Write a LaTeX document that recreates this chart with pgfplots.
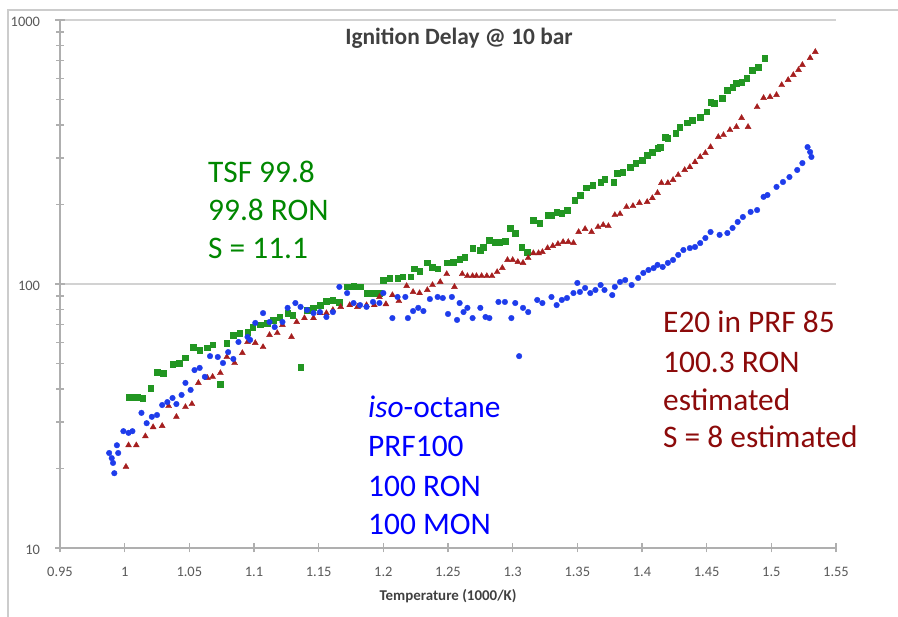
\documentclass[border=0pt]{standalone}
\usepackage{fontspec}
\setmainfont{Carlito}
\usepackage{pgfplots}
\pgfplotsset{compat=1.18}
\definecolor{gmark}{RGB}{34,150,34}
\definecolor{rmark}{RGB}{165,30,30}
\definecolor{bmark}{RGB}{30,60,235}
\definecolor{gtext}{RGB}{0,135,0}
\definecolor{btext}{RGB}{0,0,255}
\definecolor{rtext}{RGB}{140,10,10}
\definecolor{axgray}{RGB}{175,175,175}
\definecolor{lblgray}{RGB}{89,89,89}
\definecolor{titlegray}{RGB}{64,64,64}

\pgfplotstableread{
x y
1.003 37.3
1.006 37.3
1.010 37.3
1.014 37.0
1.020 40.4
1.025 46.4
1.030 46.0
1.037 49.8
1.042 50.2
1.047 52.5
1.053 57.7
1.058 56.2
1.064 57.3
1.068 58.8
1.074 41.8
1.079 59.8
1.084 64.1
1.089 65.2
1.095 65.8
1.099 68.7
1.105 70.0
1.110 71.2
1.115 73.1
1.120 75.0
1.126 77.6
1.130 76.3
1.136 48.5
1.141 79.7
1.146 81.2
1.151 83.2
1.156 86.2
1.161 87.0
1.166 85.5
1.172 97.5
1.177 98.3
1.182 97.5
1.187 92.4
1.192 92.4
1.197 92.4
1.200 103.5
1.205 105.4
1.211 105.4
1.215 106.4
1.221 106.4
1.224 114.1
1.228 112.0
1.234 120.2
1.238 116.0
1.242 114.1
1.249 120.2
1.254 121.2
1.259 124.4
1.263 126.6
1.269 136.8
1.275 134.5
1.277 138.1
1.282 146.8
1.286 144.3
1.290 144.3
1.294 145.5
1.298 163.0
1.302 156.0
1.307 138.1
1.311 132.2
1.316 174.6
1.321 170.2
1.327 182.5
1.330 182.5
1.334 187.5
1.338 185.8
1.342 190.6
1.348 208.0
1.352 217.3
1.357 231.2
1.362 237.1
1.368 243.4
1.371 249.9
1.378 243.4
1.381 263.3
1.385 265.5
1.391 277.3
1.395 287.1
1.400 294.9
1.404 308.1
1.408 316.2
1.412 327.5
1.414 330.0
1.418 360.6
1.420 357.0
1.426 373.3
1.429 393.6
1.435 407.6
1.439 418.2
1.445 429.4
1.450 448.6
1.453 489.1
1.456 484.0
1.462 506.6
1.466 543.3
1.470 557.6
1.473 577.1
1.477 581.0
1.481 602.6
1.485 646.6
1.490 663.7
1.495 718.0
}\tsf

\pgfplotstableread{
x y
1.001 20.3
1.003 24.5
1.009 24.5
1.016 26.5
1.022 28.7
1.029 29.0
1.034 34.5
1.040 31.4
1.047 34.2
1.052 35.1
1.057 42.2
1.064 44.1
1.068 44.5
1.074 46.0
1.079 52.9
1.085 50.2
1.091 54.8
1.095 60.3
1.101 59.8
1.107 57.7
1.112 64.1
1.118 65.2
1.122 70.0
1.129 63.0
1.133 71.8
1.139 74.3
1.146 74.3
1.151 77.6
1.156 77.6
1.161 79.7
1.167 81.9
1.174 83.2
1.180 81.9
1.187 83.2
1.193 83.2
1.197 89.3
1.202 83.9
1.207 90.8
1.212 86.2
1.218 98.3
1.223 93.3
1.228 92.4
1.234 94.9
1.238 99.1
1.244 101.8
1.249 109.1
1.255 97.5
1.261 109.1
1.265 107.2
1.269 107.2
1.272 107.2
1.276 107.2
1.280 107.2
1.284 107.2
1.288 111.0
1.292 115.0
1.296 123.3
1.300 123.3
1.304 121.2
1.308 120.2
1.312 125.4
1.316 130.9
1.320 130.9
1.323 132.2
1.327 136.8
1.331 139.3
1.335 141.8
1.339 144.3
1.343 144.3
1.347 143.0
1.351 157.4
1.356 161.6
1.361 157.4
1.366 164.4
1.370 167.3
1.374 165.8
1.379 182.5
1.383 184.1
1.388 195.7
1.393 197.4
1.398 202.8
1.404 204.6
1.408 211.6
1.412 221.3
1.415 241.4
1.420 241.4
1.424 247.8
1.428 258.7
1.433 270.3
1.437 277.3
1.441 289.6
1.445 302.8
1.449 313.5
1.453 330.1
1.459 360.6
1.463 366.7
1.468 383.0
1.473 393.6
1.477 425.6
1.482 393.6
1.489 468.0
1.494 506.6
1.499 511.0
1.504 520.0
1.508 567.0
1.513 593.0
1.517 619.0
1.521 647.0
1.524 676.0
1.530 718.0
1.534 757.0
}\efuel

\pgfplotstableread{
x y
0.988 22.9
0.990 21.9
0.991 21.0
0.992 19.2
0.994 24.5
0.995 22.9
0.999 27.7
1.003 27.3
1.006 27.7
1.013 32.5
1.017 29.7
1.021 31.4
1.025 31.9
1.029 34.8
1.033 35.7
1.037 37.0
1.040 35.1
1.044 38.0
1.047 42.2
1.051 39.7
1.054 47.2
1.058 48.1
1.062 44.5
1.066 53.3
1.072 52.9
1.076 50.2
1.080 55.2
1.084 52.0
1.088 60.3
1.095 63.0
1.097 61.4
1.101 71.2
1.107 77.6
1.112 71.8
1.116 68.7
1.122 71.8
1.126 81.2
1.132 84.7
1.136 81.9
1.141 79.7
1.146 77.6
1.151 78.3
1.156 75.0
1.161 78.3
1.166 97.5
1.172 92.4
1.177 84.7
1.182 83.2
1.187 81.9
1.192 85.5
1.197 84.7
1.200 92.4
1.207 74.3
1.211 89.3
1.217 89.3
1.219 74.3
1.223 79.0
1.227 81.2
1.231 79.0
1.236 87.7
1.242 89.3
1.246 88.5
1.250 77.0
1.253 89.3
1.257 73.1
1.259 84.7
1.262 78.3
1.265 81.2
1.269 74.3
1.275 81.2
1.279 75.0
1.282 74.3
1.289 85.5
1.294 85.5
1.299 74.3
1.302 84.7
1.305 53.3
1.308 81.2
1.312 78.3
1.319 87.0
1.323 84.7
1.330 89.3
1.334 83.2
1.338 87.0
1.342 88.5
1.347 92.4
1.350 100.9
1.352 93.3
1.356 96.6
1.360 92.4
1.364 94.9
1.368 99.1
1.371 94.9
1.377 90.8
1.379 97.5
1.383 101.8
1.387 103.5
1.392 99.1
1.397 105.4
1.401 110.1
1.405 113.0
1.409 114.9
1.412 118.1
1.416 116.0
1.420 120.2
1.424 123.3
1.428 128.9
1.432 134.5
1.437 136.8
1.441 138.1
1.445 142.9
1.449 149.3
1.453 157.4
1.460 153.5
1.466 156.0
1.470 163.0
1.474 171.8
1.478 179.4
1.484 187.5
1.489 190.6
1.494 213.8
1.497 217.3
1.504 233.2
1.509 243.4
1.514 254.2
1.520 270.3
1.524 287.1
1.528 330.1
1.530 316.2
1.531 302.8
}\isooct

\begin{document}
\begin{tikzpicture}[x=1bp,y=1bp]
\path[use as bounding box] (0,0) rectangle (898,617);
\draw[gray!40, line width=1.2bp] (8,0) -- (8,607) -- (898,607);
\begin{axis}[
  at={(60bp,69bp)}, anchor=south west,
  scale only axis, width=776bp, height=528bp,
  xmin=0.95, xmax=1.55, ymode=log, ymin=10, ymax=1000,
  axis x line*=bottom, axis y line*=left,
  axis line style={axgray, line width=1.2bp},
  xtick={0.95,1,1.05,1.1,1.15,1.2,1.25,1.3,1.35,1.4,1.45,1.5,1.55},
  xticklabels={0.95,1,1.05,1.1,1.15,1.2,1.25,1.3,1.35,1.4,1.45,1.5,1.55},
  ytick={10,100,1000}, yticklabels={10,100,1000},
  tick align=center, major tick length=9bp, minor tick length=7bp,
  every tick/.style={axgray, line width=1.2bp},
  ymajorgrids, major grid style={gray!35, line width=1.2bp},
  /pgf/number format/assume math mode=true,
  tick label style={font=\fontsize{14.5}{17}\selectfont, text=lblgray},
  xticklabel style={yshift=-11bp},
  yticklabel style={xshift=-12bp, yshift=-2bp},
  xlabel={Temperature (1000/K)},
  xlabel style={font=\bfseries\fontsize{15}{18}\selectfont, text=titlegray,
    at={(axis description cs:0.5,-0.091)}, anchor=center},
  clip=false,
]
\addplot[only marks, mark=square*, mark size=2.8bp, color=gmark] table {\tsf};
\addplot[only marks, mark=triangle*, mark size=3.4bp, color=rmark] table {\efuel};
\addplot[only marks, mark=*, mark size=2.8bp, color=bmark] table {\isooct};
\end{axis}
\node[anchor=base, font=\bfseries\fontsize{23.5}{28}\selectfont, text=titlegray] at (459,572) {Ignition Delay @ 10 bar};
\begin{scope}[every node/.style={anchor=base west, font=\fontsize{31.5}{38}\selectfont, inner sep=0pt}]
\node[text=gtext] at (208,434) {TSF 99.8};
\node[text=gtext] at (208,396) {99.8 RON};
\node[text=gtext] at (208,358) {S = 11.1};
\node[text=btext] at (368,199) {\textit{iso}-octane};
\node[text=btext] at (368,160) {PRF100};
\node[text=btext] at (368,120) {100 RON};
\node[text=btext] at (368,82) {100 MON};
\node[text=rtext] at (663,284) {E20 in PRF 85};
\node[text=rtext] at (663,244) {100.3 RON};
\node[text=rtext] at (663,206) {estimated};
\node[text=rtext] at (663,169) {S = 8 estimated};
\end{scope}
\end{tikzpicture}
\end{document}
